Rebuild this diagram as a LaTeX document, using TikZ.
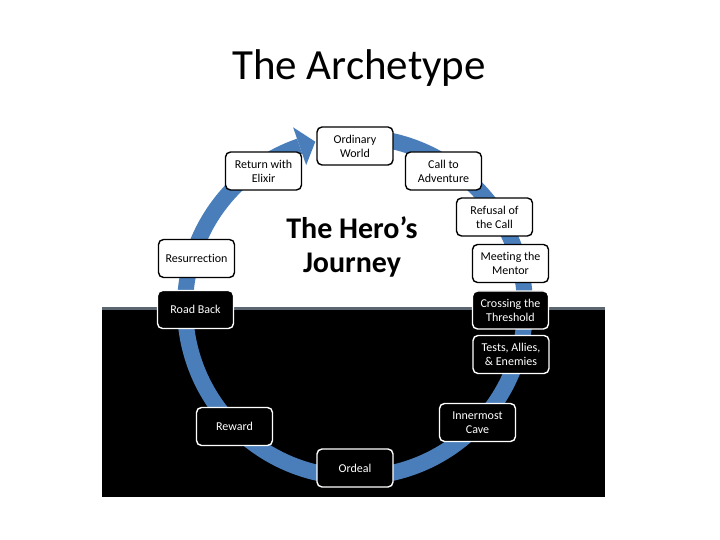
\documentclass[tikz,border=0pt]{standalone}
\usepackage{fontspec}
\setmainfont{Carlito}[Ligatures=NoCommon]
\usetikzlibrary{calc}
\definecolor{ringblue}{RGB}{74,126,187}
\definecolor{edgegray}{RGB}{92,102,112}
\begin{document}
\begin{tikzpicture}[x=1pt,y=1pt,
  wbox/.style={draw=black, fill=white, text=black, line width=1.4pt, rounded corners=5pt,
    minimum width=76pt, minimum height=38pt, align=center,
    font=\fontsize{12}{14}\selectfont, inner sep=1pt},
  bbox/.style={wbox, draw=white, fill=black, text=white},
  ring/.style={draw=ringblue, line width=16pt}]
\useasboundingbox (0,0) rectangle (720,540);
\fill[white] (0,0) rectangle (720,540);
\fill[black] (102,43) rectangle (605,230);
\fill[edgegray] (102,230) rectangle (605,232.5);
\coordinate (c) at (355,233);
\draw[ring] ($(c)+(95:170)$) arc[start angle=95,end angle=-251,radius=170];
\fill[ringblue] ($(c)+(109:150)$) -- ($(c)+(109:190)$) -- ($(c)+(103.5:170)$) -- cycle;
\node[font=\fontsize{43}{52}\selectfont, anchor=base] (title) at (359,460.5) {The Archetype};
\node[font=\bfseries\fontsize{30}{34}\selectfont, anchor=base] (h1) at (352,301) {The Hero’s};
\node[font=\bfseries\fontsize{30}{34}\selectfont, anchor=base] (h2) at (352,267) {Journey};
\node[wbox] (ow) at (355,394) {Ordinary\\World};
\node[wbox] (call) at (443.5,369) {Call to\\Adventure};
\node[wbox] (ref) at (494.5,323) {Refusal of\\the Call};
\node[wbox] (ment) at (510.5,276.5) {Meeting the\\Mentor};
\node[bbox] (cross) at (510.5,230) {Crossing the\\Threshold};
\node[bbox] (tests) at (511,185.5) {Tests, Allies,\\\& Enemies};
\node[bbox] (cave) at (477.5,117.5) {Innermost\\Cave};
\node[bbox] (ordeal) at (355,72) {Ordeal};
\node[bbox] (reward) at (234.5,113.5) {Reward};
\node[bbox] (road) at (195.5,230.5) {Road Back};
\node[wbox] (resur) at (196.5,281.5) {Resurrection};
\node[wbox] (ret) at (263.5,369) {Return with\\Elixir};
\end{tikzpicture}
\end{document}
